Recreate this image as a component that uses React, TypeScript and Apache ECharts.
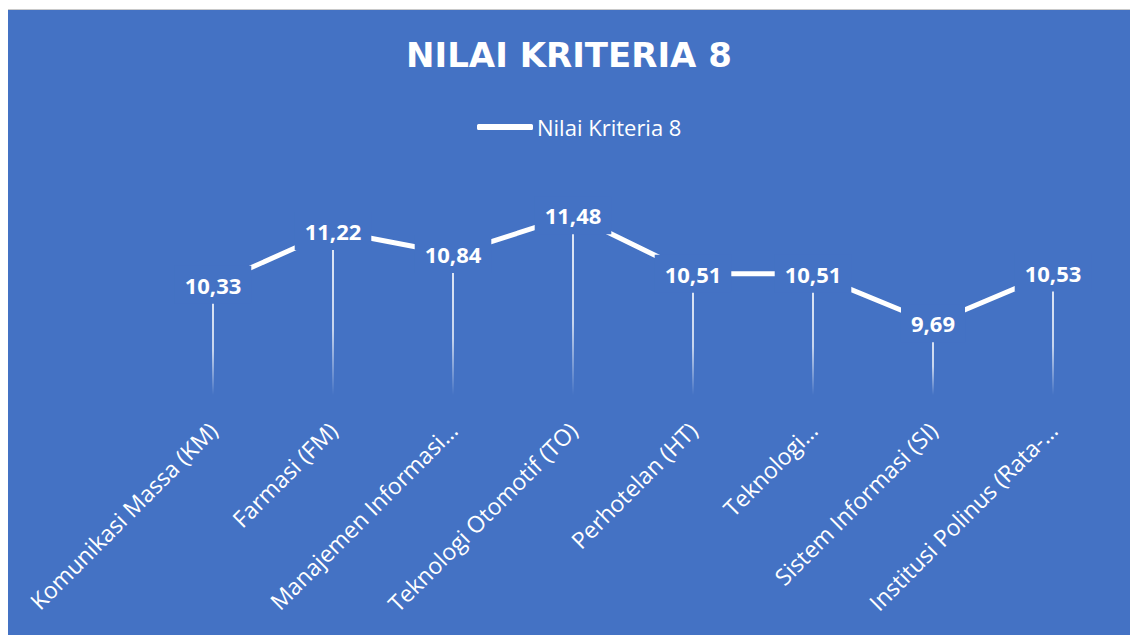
import React, { useEffect, useRef } from "react";
import * as echarts from "echarts";

const categories = [
  "Komunikasi Massa (KM)",
  "Farmasi (FM)",
  "Manajemen Informasi…",
  "Teknologi Otomotif (TO)",
  "Perhotelan (HT)",
  "Teknologi…",
  "Sistem Informasi (SI)",
  "Institusi Polinus (Rata-…",
];
const values = [10.33, 11.22, 10.84, 11.48, 10.51, 10.51, 9.69, 10.53];
const seriesName = "Nilai Kriteria 8";
const titleText = "NILAI KRITERIA 8";

const BLUE = "#4472C4";

export default function App() {
  const ref = useRef<HTMLDivElement>(null);
  useEffect(() => {
    if (!ref.current) return;
    const chart = echarts.init(ref.current, undefined, { renderer: "svg" });
    chart.setOption({
      animation: false,
      backgroundColor: BLUE,
      title: {
        text: titleText,
        left: "center",
        top: 25,
        padding: [0, 0, 0, 10],
        textStyle: {
          color: "#ffffff",
          fontFamily: "DejaVu Sans",
          fontWeight: "bold",
          fontSize: 34,
          lineHeight: 40,
        },
      },
      legend: {
        data: [{ name: seriesName, itemStyle: { color: "#ffffff", opacity: 1 } }],
        left: 469,
        top: 104,
        padding: 0,
        icon: "roundRect",
        itemWidth: 56,
        itemHeight: 6,
        itemGap: 4,
        itemStyle: { color: "#ffffff", opacity: 1 },
        textStyle: {
          color: "#ffffff",
          fontFamily: "Open Sans",
          fontSize: 22,
          lineHeight: 26,
          padding: [0, 0, 0, -1],
        },
      },
      grid: { left: 145, right: 17, top: 174, bottom: 240, containLabel: false },
      xAxis: {
        type: "category",
        data: categories,
        boundaryGap: true,
        axisLine: { show: false },
        axisTick: { show: false },
        splitLine: { show: false },
        axisLabel: {
          rotate: 45,
          interval: 0,
          margin: 31,
          color: "#ffffff",
          fontFamily: "Open Sans",
          fontSize: 23,
        },
      },
      yAxis: {
        type: "value",
        min: 8.5,
        max: 12,
        show: false,
        splitLine: { show: false },
      },
      series: [
        {
          name: "drop",
          type: "bar",
          data: values,
          barWidth: 2,
          z: 1,
          silent: true,
          itemStyle: {
            color: new echarts.graphic.LinearGradient(0, 0, 0, 1, [
              { offset: 0, color: "rgba(255,255,255,0.85)" },
              { offset: 0.6, color: "rgba(255,255,255,0.7)" },
              { offset: 1, color: "rgba(255,255,255,0)" },
            ]),
          },
        },
        {
          name: seriesName,
          type: "line",
          data: values,
          z: 5,
          symbol: "circle",
          symbolSize: 2,
          showSymbol: true,
          itemStyle: { color: "rgba(255,255,255,0)" },
          lineStyle: { color: "#ffffff", width: 5 },
          label: {
            show: true,
            position: "inside",
            color: "#ffffff",
            fontFamily: "Open Sans",
            fontWeight: "bold",
            fontSize: 22,
            lineHeight: 22,
            backgroundColor: BLUE,
            padding: [8, 10],
            formatter: (p: any) => Number(p.value).toFixed(2).replace(".", ","),
          },
        },
      ],
    });
    return () => chart.dispose();
  }, []);
  return (
    <div
      style={{
        position: "fixed",
        left: 8,
        top: 9,
        right: 0,
        bottom: 0,
        background: BLUE,
        borderTop: "1px solid #c9c9c9",
      }}
    >
      <div ref={ref} style={{ width: 1122, height: 625 }} />
    </div>
  );
}
